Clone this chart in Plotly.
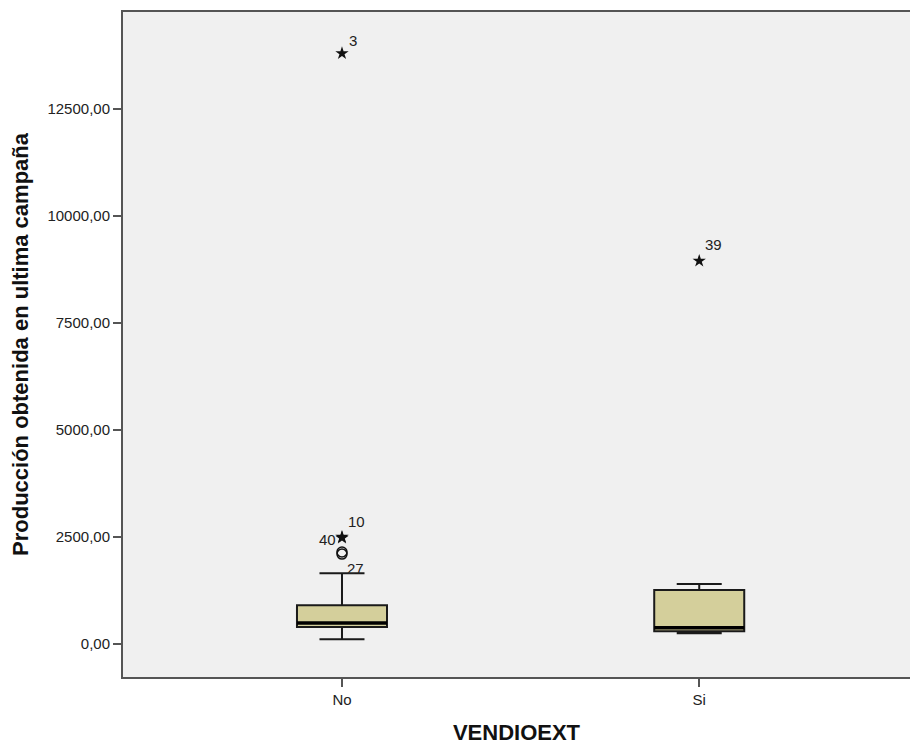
import plotly.graph_objects as go

categories = ["No", "Si"]
q1 = [400, 300]
median = [490, 380]
q3 = [905, 1260]
lower_whisker = [110, 250]
upper_whisker = [1650, 1400]

# outliers: category, value, case label, kind
out_cat = ["No", "No", "No", "No", "No", "Si"]
out_val = [13800, 2500, 2480, 2150, 2100, 8950]
out_lab = ["3", "10", "40", "", "27", "39"]
out_kind = ["extreme", "extreme", "extreme", "mild", "mild", "extreme"]
# label offsets in pixels (dx, dy)
out_dx = [11, 15, -14, 0, 14, 14]
out_dy = [13, 15, -2, 0, -14, 16]

ytick_vals = [0, 2500, 5000, 7500, 10000, 12500]
ytick_text = ["0,00", "2500,00", "5000,00", "7500,00", "10000,00", "12500,00"]

box_w = 0.252
fill = "#d4cf9b"
FONT = "Liberation Sans, Arial"

fig = go.Figure()
fig.add_trace(go.Box(
    x=categories, q1=q1, median=median, q3=q3,
    lowerfence=lower_whisker, upperfence=upper_whisker,
    boxpoints=False, width=box_w, whiskerwidth=0.5,
    fillcolor=fill, line=dict(color="#1a1a1a", width=2),
    showlegend=False, hoverinfo="skip",
))

# thick median lines (SPSS style)
for i, m in enumerate(median):
    fig.add_shape(type="line", xref="x", yref="y",
                  x0=i - box_w / 2, x1=i + box_w / 2, y0=m, y1=m,
                  line=dict(color="#000000", width=3.5))

sym_map = {"extreme": "star", "mild": "circle-open"}
for kind in ["extreme", "mild"]:
    idx = [i for i, k in enumerate(out_kind) if k == kind]
    fig.add_trace(go.Scatter(
        x=[out_cat[i] for i in idx], y=[out_val[i] for i in idx],
        mode="markers",
        marker=dict(symbol=sym_map[kind], size=10,
                    color="#111111",
                    line=dict(color="#222222", width=1.5 if kind == "mild" else 0)),
        showlegend=False, hoverinfo="skip",
    ))

for c, v, lab, dx, dy in zip(out_cat, out_val, out_lab, out_dx, out_dy):
    if not lab:
        continue
    fig.add_annotation(
        x=c, y=v, xref="x", yref="y", text=lab, showarrow=False,
        xshift=dx, yshift=dy,
        font=dict(family=FONT, size=15, color="#222222"),
    )

fig.update_layout(
    width=910, height=745,
    margin=dict(l=123, r=0, t=12, b=68),
    paper_bgcolor="white", plot_bgcolor="#f0f0f0",
    font=dict(family=FONT, size=15, color="#222222"),
)
fig.update_xaxes(
    type="category", range=[-0.613, 1.59],
    showline=True, linecolor="#555555", linewidth=2, mirror=True,
    ticks="outside", ticklen=8, tickcolor="#555555", tickwidth=1.5,
    showgrid=False, zeroline=False,
    tickfont=dict(family=FONT, size=15, color="#222222"),
    title=dict(text="<b>VENDIOEXT</b>", font=dict(family=FONT, size=22, color="#111111"), standoff=19),
)
fig.update_yaxes(
    range=[-771, 14765],
    tickvals=ytick_vals, ticktext=ytick_text,
    showline=True, linecolor="#555555", linewidth=2, mirror=False,
    ticks="outside", ticklen=8, tickcolor="#555555", tickwidth=1.5,
    showgrid=False, zeroline=False,
    tickfont=dict(family=FONT, size=15, color="#222222"),
    title=dict(text="<b>Producción obtenida en ultima campaña</b>", font=dict(family=FONT, size=22, color="#111111"), standoff=13),
)

fig.write_html("out.html")
